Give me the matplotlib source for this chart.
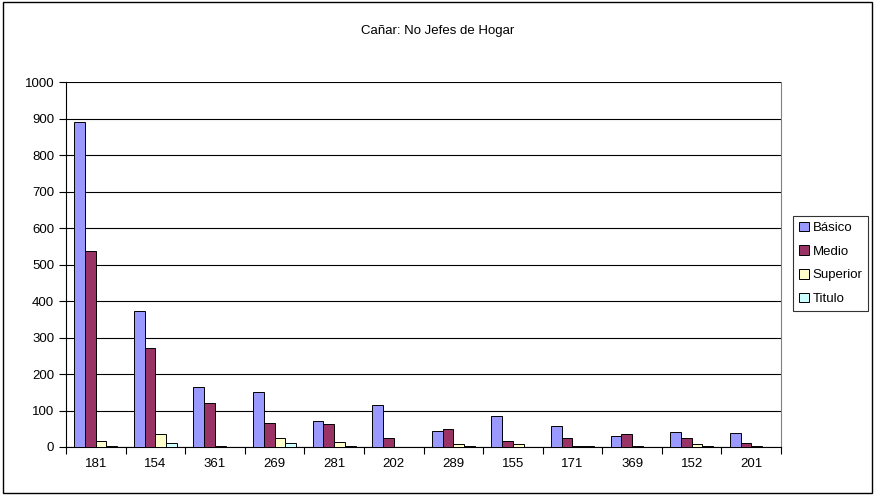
import numpy as np
import matplotlib.pyplot as plt
from matplotlib.patches import Rectangle

plt.rcParams["font.family"] = ["Liberation Sans", "DejaVu Sans"]

categories = ['181', '154', '361', '269', '281', '202', '289', '155', '171', '369', '152', '201']
basico = [890, 373, 165, 152, 72, 115, 45, 86, 58, 31, 41, 38]
medio = [537, 272, 120, 65, 63, 24, 49, 17, 24, 35, 24, 11]
superior = [16, 35, 2, 24, 14, 0, 7, 7, 3, 3, 7, 3]
titulo = [3, 10, 0, 10, 3, 0, 3, 0, 3, 0, 3, 0]

series = [('Básico', basico, '#9999FF'),
          ('Medio', medio, '#993366'),
          ('Superior', superior, '#FFFFCC'),
          ('Titulo', titulo, '#CCFFFF')]

fig = plt.figure(figsize=(8.75, 4.95), dpi=100)
ax = fig.add_axes([0.0754, 0.097, 0.8172, 0.737])

x = np.arange(len(categories))
width = 0.18
for i, (name, vals, color) in enumerate(series):
    ax.bar(x + (i - 1.5) * width, vals, width, color=color,
           edgecolor='black', linewidth=0.7, label=name, zorder=3)

ax.set_xlim(-0.5, len(categories) - 0.5)
ax.set_ylim(0, 1000)
ax.set_yticks(range(0, 1001, 100))
ax.yaxis.grid(True, color='black', linewidth=0.8, zorder=0)
ax.set_xticks(x)
ax.set_xticklabels(categories)
ax.set_xticks(np.arange(-0.5, len(categories), 1), minor=True)
ax.tick_params(axis='x', which='major', length=0, pad=8, labelsize=9.5)
ax.tick_params(axis='x', which='minor', length=5, width=0.8, direction='out')
ax.tick_params(axis='y', length=5, width=0.8, direction='out', labelsize=9.5)
ax.spines['top'].set_visible(False)
ax.spines['right'].set_color('#808080')
ax.spines['left'].set_linewidth(0.8)
ax.spines['bottom'].set_linewidth(0.8)

fig.text(0.5, 0.938, 'Cañar: No Jefes de Hogar', ha='center', va='center', fontsize=9.5)

leg = ax.legend(loc='center left', bbox_to_anchor=(0.906, 0.468), bbox_transform=fig.transFigure,
                frameon=True, fancybox=False, edgecolor='black', fontsize=9.5,
                handlelength=0.75, handleheight=0.75, handletextpad=0.3,
                labelspacing=0.85, borderpad=0.45, borderaxespad=0)
leg.get_frame().set_linewidth(0.8)

fig.patches.append(Rectangle((0.003, 0.004), 0.993, 0.992, transform=fig.transFigure,
                             fill=False, edgecolor='black', linewidth=1.0))

fig.savefig('out.png', dpi=100)
